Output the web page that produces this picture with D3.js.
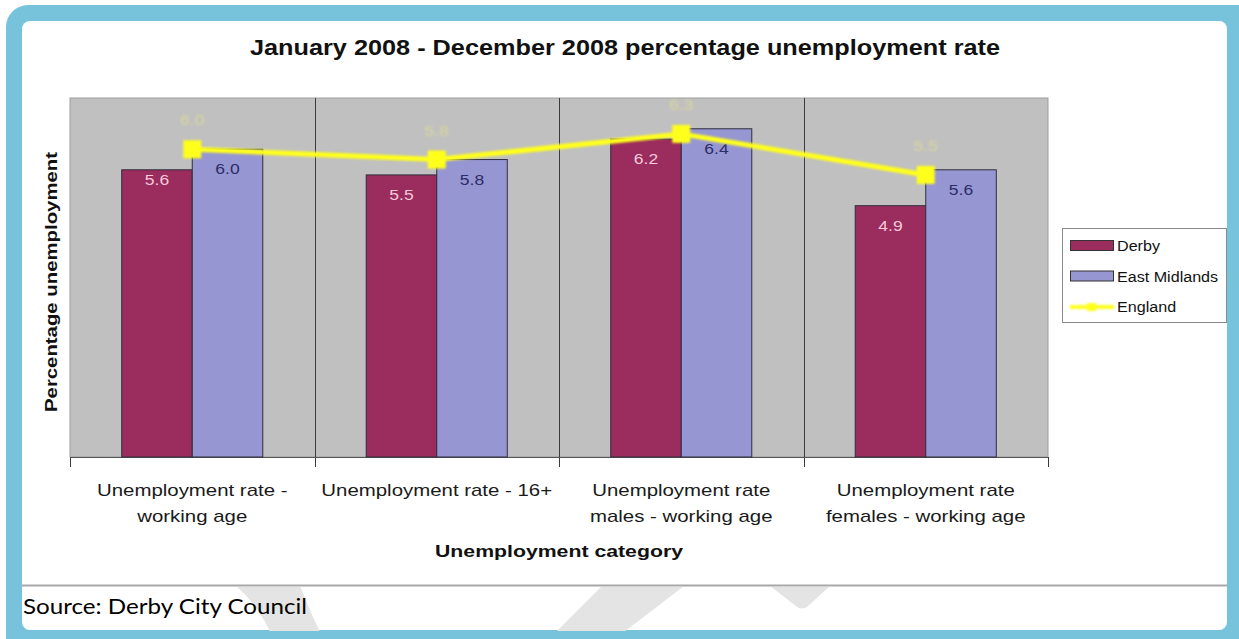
<!DOCTYPE html>
<html>
<head>
<meta charset="utf-8">
<script src="https://cdn.jsdelivr.net/npm/d3@7"></script>
<style>
  html, body { margin: 0; padding: 0; background: #fff; }
  svg { display: block; }
</style>
</head>
<body>
<svg id="chart" width="1239" height="639"></svg>
<script>
// ---- data ----
const categories = [
  "Unemployment rate - working age",
  "Unemployment rate - 16+",
  "Unemployment rate males - working age",
  "Unemployment rate females - working age"
];
const categoryLines = [
  ["Unemployment rate -", "working age"],
  ["Unemployment rate - 16+"],
  ["Unemployment rate", "males - working age"],
  ["Unemployment rate", "females - working age"]
];
const barSeries = ["Derby", "East Midlands"];
const lineSeries = "England";
const derby = [5.6, 5.5, 6.2, 4.9];
const eastMidlands = [6.0, 5.8, 6.4, 5.6];
const england = [6.0, 5.8, 6.3, 5.5];
const yDomain = [0, 7];

const titleText = "January 2008 - December 2008 percentage unemployment rate";
const xTitle = "Unemployment category";
const yTitle = "Percentage unemployment";
const sourceText = "Source: Derby City Council";

// ---- setup ----
const FONT = "'Liberation Sans', Arial, Helvetica, sans-serif";
const svg = d3.select("#chart");
const colors = { "Derby": "#9a2d5d", "East Midlands": "#9696d2", "England": "#ffff1e" };

function stretchTo(sel, len) {
  sel.attr("textLength", len).attr("lengthAdjust", "spacingAndGlyphs");
}
function stretchBy(sel, k) {
  sel.each(function () {
    const w = this.getComputedTextLength();
    d3.select(this).attr("textLength", w * k).attr("lengthAdjust", "spacingAndGlyphs");
  });
}

// soft glow used by the England series
const defs = svg.append("defs");
defs.append("filter").attr("id", "soft")
  .attr("filterUnits", "userSpaceOnUse")
  .attr("x", 0).attr("y", 0).attr("width", 1239).attr("height", 639)
  .append("feGaussianBlur").attr("stdDeviation", 0.8);
defs.append("filter").attr("id", "haze")
  .attr("filterUnits", "userSpaceOnUse")
  .attr("x", 0).attr("y", 0).attr("width", 1239).attr("height", 639)
  .append("feGaussianBlur").attr("stdDeviation", 0.9);
defs.append("clipPath").attr("id", "footClip")
  .append("rect").attr("x", 22).attr("y", 587).attr("width", 1205).attr("height", 44);

// ---- page frame ----
svg.append("rect").attr("x", 6).attr("y", 5).attr("width", 1260).attr("height", 660)
  .attr("rx", 22).attr("fill", "#77c3dc");
svg.append("rect").attr("x", 22).attr("y", 21).attr("width", 1205).attr("height", 609)
  .attr("rx", 8).attr("fill", "#ffffff");

// faint background logo strokes in the footer strip
const foot = svg.append("g").attr("clip-path", "url(#footClip)").attr("fill", "#e4e4e4");
foot.append("path").attr("d", "M236,586 L300,586 C306,600 312,616 320,632 L270,632 C262,614 250,598 236,586 Z");
foot.append("path").attr("d", "M602,586 L684,586 L624,632 L556,632 Z");
foot.append("path").attr("d", "M770,586 L830,586 L808,606 Q802,611 796,606 Z");

svg.append("line").attr("x1", 22).attr("x2", 1227).attr("y1", 585.5).attr("y2", 585.5)
  .attr("stroke", "#a8a8a8").attr("stroke-width", 2);

// ---- scales ----
const plot = { left: 70, right: 1048, top: 98, bottom: 457 };
const x0 = d3.scaleBand().domain(categories).range([plot.left, plot.right]).padding(0);
const groupW = x0.bandwidth() * 0.577;
const x1 = d3.scaleBand().domain(barSeries).range([0, groupW]).padding(0);
const y = d3.scaleLinear().domain(yDomain).range([plot.bottom, plot.top]);
const xc = c => x0(c) + x0.bandwidth() / 2;

// ---- plot area ----
svg.append("rect").attr("x", plot.left).attr("y", plot.top)
  .attr("width", plot.right - plot.left).attr("height", plot.bottom - plot.top)
  .attr("fill", "#c0c0c0").attr("stroke", "#9d9d9d").attr("stroke-width", 1);

// category separators and boundary ticks
const bounds = categories.map(c => x0(c)).concat([plot.right]);
svg.append("g").selectAll("line").data(bounds).join("line")
  .attr("x1", d => Math.round(d) + 0.5).attr("x2", d => Math.round(d) + 0.5)
  .attr("y1", (d, i) => (i === 0 || i === bounds.length - 1) ? plot.bottom : plot.top)
  .attr("y2", plot.bottom + 10)
  .attr("stroke", "#3a3a3a").attr("stroke-width", 1);

svg.append("line").attr("x1", plot.left).attr("x2", plot.right)
  .attr("y1", plot.bottom + 0.5).attr("y2", plot.bottom + 0.5)
  .attr("stroke", "#555").attr("stroke-width", 1.2);

// ---- bars ----
const barData = [];
categories.forEach((c, i) => {
  barData.push({ cat: c, series: "Derby", value: derby[i], idx: i });
  barData.push({ cat: c, series: "East Midlands", value: eastMidlands[i], idx: i });
});
const barX = d => xc(d.cat) - groupW / 2 + x1(d.series);

svg.append("g").selectAll("rect").data(barData).join("rect")
  .attr("x", barX).attr("y", d => y(d.value))
  .attr("width", x1.bandwidth()).attr("height", d => y(0) - y(d.value))
  .attr("fill", d => colors[d.series]).attr("stroke", "#2e2e3c").attr("stroke-width", 1);

// bar value labels (the first Derby label sits a little higher, clear of the line)
const labelNudge = { "Derby-0": -10 };
svg.append("g").selectAll("text").data(barData).join("text")
  .attr("x", d => barX(d) + x1.bandwidth() / 2)
  .attr("y", d => y(d.value) + 25 + (labelNudge[d.series + "-" + d.idx] || 0))
  .attr("text-anchor", "middle")
  .attr("font-family", FONT).attr("font-size", 14)
  .attr("fill", d => d.series === "Derby" ? "#f6c9dc" : "#2c2c66")
  .text(d => d.value.toFixed(1))
  .call(stretchBy, 1.25);

// ---- England line ----
const line = d3.line().x((d, i) => xc(categories[i])).y(d => y(d));
const eng = svg.append("g").attr("filter", "url(#soft)");
eng.append("path").datum(england).attr("d", line)
  .attr("fill", "none").attr("stroke", colors.England).attr("stroke-width", 5)
  .attr("stroke-linejoin", "round");
eng.selectAll("rect").data(england).join("rect")
  .attr("x", (d, i) => xc(categories[i]) - 9).attr("y", d => y(d) - 9)
  .attr("width", 18).attr("height", 18).attr("fill", colors.England);

// England values: pale yellow, barely standing out from the grey
svg.append("g").attr("filter", "url(#haze)").selectAll("text").data(england).join("text")
  .attr("x", (d, i) => xc(categories[i]))
  .attr("y", d => y(d) - 24)
  .attr("text-anchor", "middle")
  .attr("font-family", FONT).attr("font-size", 14)
  .attr("fill", "#d9d79c")
  .text(d => d.toFixed(1))
  .call(stretchBy, 1.25);

// ---- category labels (one text element per wrapped line) ----
const catG = svg.append("g");
categories.forEach((c, i) => {
  categoryLines[i].forEach((ln, j) => {
    catG.append("text").attr("x", xc(c)).attr("y", 496 + j * 26)
      .attr("text-anchor", "middle")
      .attr("font-family", FONT).attr("font-size", 17).attr("fill", "#1a1a1a")
      .text(ln).call(stretchBy, 1.2);
  });
});

// ---- titles ----
svg.append("text").attr("x", 625).attr("y", 55).attr("text-anchor", "middle")
  .attr("font-family", FONT).attr("font-weight", "bold").attr("font-size", 22)
  .attr("fill", "#111").text(titleText).call(stretchTo, 750);

svg.append("text").attr("x", 559).attr("y", 557).attr("text-anchor", "middle")
  .attr("font-family", FONT).attr("font-weight", "bold").attr("font-size", 17)
  .attr("fill", "#111").text(xTitle).call(stretchTo, 248);

svg.append("text").attr("transform", "translate(57,282) rotate(-90)")
  .attr("text-anchor", "middle")
  .attr("font-family", FONT).attr("font-weight", "bold").attr("font-size", 17)
  .attr("fill", "#111").text(yTitle).call(stretchTo, 260);

// ---- legend ----
const lg = svg.append("g");
lg.append("rect").attr("x", 1062.5).attr("y", 228.5).attr("width", 164).attr("height", 94)
  .attr("fill", "#fff").attr("stroke", "#8a8a8a").attr("stroke-width", 1);
const legendItems = barSeries.concat([lineSeries]);
legendItems.forEach((s, i) => {
  const cy = 246 + i * 30.5;
  if (s === lineSeries) {
    const key = lg.append("g").attr("filter", "url(#soft)");
    key.append("rect").attr("x", 1070).attr("y", cy - 2).attr("width", 44).attr("height", 4)
      .attr("fill", colors[s]);
    key.append("rect").attr("x", 1087).attr("y", cy - 4).attr("width", 9).attr("height", 8)
      .attr("fill", colors[s]);
  } else {
    lg.append("rect").attr("x", 1070.5).attr("y", cy - 5.5).attr("width", 43).attr("height", 10)
      .attr("fill", colors[s]).attr("stroke", "#333").attr("stroke-width", 1);
  }
  lg.append("text").attr("x", 1117).attr("y", cy + 5)
    .attr("font-family", FONT).attr("font-size", 14).attr("fill", "#111")
    .text(s).call(stretchBy, 1.15);
});

// ---- source note ----
svg.append("text").attr("x", 23).attr("y", 614)
  .attr("font-family", "Lato, 'Open Sans', sans-serif").attr("font-size", 21)
  .attr("fill", "#000").text(sourceText).call(stretchTo, 284);
</script>
</body>
</html>
